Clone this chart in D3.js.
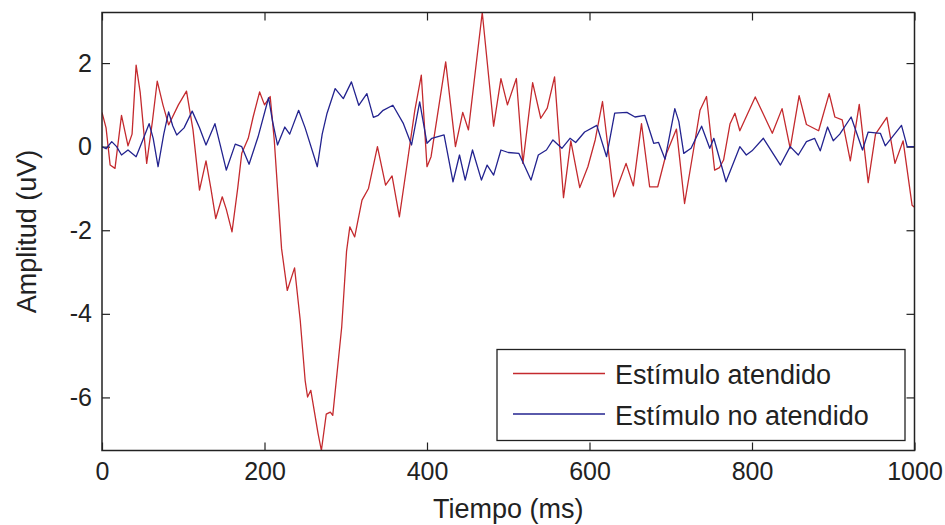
<!DOCTYPE html>
<html>
<head>
<meta charset="utf-8">
<script src="https://cdn.jsdelivr.net/npm/d3@7"></script>
<style>
  body { margin: 0; background: #fff; }
  svg { display: block; font-family: "Liberation Sans", Arial, sans-serif; }
  .tick text { font-size: 25px; fill: #222; }
  .tick line { stroke: #222; stroke-width: 1.2; }
</style>
</head>
<body>
<svg id="chart" width="945" height="525"></svg>
<script>
// valores (tiempo en ms, amplitud en uV)
const tiempoAtendido = [0, 5, 10, 16, 24, 32, 37, 42, 47, 55, 62, 68, 75, 82, 94, 104, 112, 120, 128, 134,
  140, 148, 153, 160, 167, 172, 180, 186, 194, 200, 207, 212, 221, 228, 237, 244, 250, 253, 257, 266,
  270, 276, 281, 284, 295, 301, 305, 311, 320, 328, 339, 349, 357, 366, 375, 385, 393, 400, 405, 423,
  435, 444, 451, 468, 482, 491, 499, 510, 518, 530, 540, 548, 557, 568, 577, 588, 598, 607, 616, 630,
  645, 654, 664, 674, 684, 694, 707, 717, 728, 736, 744, 754, 760, 765, 773, 779, 785, 804, 825, 837,
  847, 858, 867, 882, 895, 902, 911, 921, 932, 943, 952, 966, 976, 986, 997, 1000];
const ampAtendido = [0.82, 0.45, -0.44, -0.52, 0.75, 0.02, 0.3, 1.95, 1.3, -0.4, 0.6, 1.57, 1.0, 0.52, 1.0, 1.33, 0.4, -1.04, -0.34, -1.0,
  -1.72, -1.2, -1.5, -2.04, -1.0, -0.16, 0.2, 0.71, 1.31, 1.0, 1.2, 0.16, -2.44, -3.44, -2.9, -4.16, -5.59, -5.99, -5.83, -6.87,
  -7.27, -6.4, -6.35, -6.43, -4.32, -2.5, -1.92, -2.16, -1.28, -1.0, 0.0, -0.92, -0.7, -1.68, -0.48, 0.87, 1.71, -0.48, -0.24, 2.03,
  0.0, 0.82, 0.4, 3.21, 0.49, 1.63, 1.0, 1.63, -0.4, 1.53, 0.68, 0.92, 1.67, -1.22, 0.14, -0.98, -0.48, 0.16, 1.08, -1.2,
  -0.4, -0.94, 0.55, -0.96, -0.96, -0.2, 0.42, -1.36, -0.08, 0.87, 1.2, -0.56, -0.5, -0.32, 0.55, 0.8, 0.38, 1.19, 0.32, 0.91,
  -0.04, 1.22, 0.53, 0.38, 1.27, 0.71, 0.64, -0.34, 1.01, -0.86, 0.3, 0.7, -0.4, 0.14, -1.4, -1.45];

const tiempoNoAtendido = [0, 5, 12, 18, 24, 32, 42, 50, 58, 63, 69, 76, 82, 87, 92, 101, 111, 120, 128, 139,
  146, 153, 164, 172, 181, 192, 205, 210, 216, 225, 231, 242, 250, 265, 271, 277, 287, 297, 307, 316,
  326, 334, 340, 346, 358, 371, 381, 391, 400, 406, 421, 432, 440, 447, 456, 467, 474, 482, 491, 500,
  513, 528, 537, 547, 555, 566, 576, 583, 594, 609, 621, 631, 646, 656, 668, 679, 685, 693, 705, 710,
  716, 725, 738, 748, 753, 768, 785, 793, 800, 814, 835, 847, 857, 867, 877, 884, 893, 900, 908, 922,
  936, 943, 958, 964, 984, 991, 1000];
const ampNoAtendido = [0.0, -0.05, 0.12, 0.0, -0.2, -0.08, -0.24, 0.15, 0.55, 0.2, -0.48, 0.3, 0.83, 0.5, 0.28, 0.45, 0.85, 0.45, 0.04, 0.55,
  0.0, -0.56, 0.06, 0.0, -0.42, 0.23, 1.17, 0.6, 0.04, 0.47, 0.3, 0.87, 0.45, -0.48, 0.3, 0.8, 1.39, 1.15, 1.55, 0.99,
  1.27, 0.7, 0.75, 0.87, 0.99, 0.55, 0.04, 1.07, 0.08, 0.2, 0.28, -0.84, -0.2, -0.8, -0.08, -0.8, -0.44, -0.68, -0.08, -0.14,
  -0.16, -0.8, -0.2, -0.08, 0.16, -0.04, 0.2, 0.1, 0.35, 0.51, -0.24, 0.8, 0.82, 0.71, 0.75, 0.08, 0.1, -0.3, 0.91, 0.6,
  -0.16, -0.04, 0.49, -0.04, 0.2, -0.84, 0.0, -0.2, -0.1, 0.2, -0.44, 0.0, -0.2, 0.12, 0.2, -0.1, 0.47, 0.14, 0.3, 0.71,
  -0.08, 0.35, 0.32, 0.02, 0.51, 0.0, 0.0];

const xTicks = [0, 200, 400, 600, 800, 1000];
const yTicks = [-6, -4, -2, 0, 2];
const nombres = ["Estímulo atendido", "Estímulo no atendido"];
const colores = ["#c42a2e", "#23238f"];

const width = 945, height = 525;
const margin = { top: 12.5, right: 30.5, bottom: 74.5, left: 102 };
const w = width - margin.left - margin.right;
const h = height - margin.top - margin.bottom;

const svg = d3.select("#chart");
const g = svg.append("g").attr("transform", `translate(${margin.left},${margin.top})`);

// eje y ajustado a los datos (axis tight)
const x = d3.scaleLinear().domain([0, 1000]).range([0, w]);
const y = d3.scaleLinear().domain(d3.extent(ampAtendido.concat(ampNoAtendido))).range([h, 0]);

// etiquetas simples, con guion normal como en matlab
const fmt = d => String(d);

g.append("clipPath").attr("id", "clip")
  .append("rect").attr("width", w).attr("height", h);

// ejes con marcas hacia dentro en los cuatro lados
g.append("g").attr("transform", `translate(0,${h})`)
  .call(d3.axisBottom(x).tickValues(xTicks).tickFormat(fmt).tickSizeInner(-8).tickSizeOuter(0).tickPadding(12))
  .call(a => a.select(".domain").remove());
g.append("g")
  .call(d3.axisTop(x).tickValues(xTicks).tickSizeInner(-8).tickSizeOuter(0).tickFormat(""))
  .call(a => a.select(".domain").remove());
g.append("g")
  .call(d3.axisLeft(y).tickValues(yTicks).tickFormat(fmt).tickSizeInner(-8).tickSizeOuter(0).tickPadding(10))
  .call(a => a.select(".domain").remove());
g.append("g").attr("transform", `translate(${w},0)`)
  .call(d3.axisRight(y).tickValues(yTicks).tickSizeInner(-8).tickSizeOuter(0).tickFormat(""))
  .call(a => a.select(".domain").remove());

const series = [
  { nombre: nombres[0], color: colores[0], t: tiempoAtendido, v: ampAtendido },
  { nombre: nombres[1], color: colores[1], t: tiempoNoAtendido, v: ampNoAtendido }
];

const line = d3.line()
  .x(d => x(d[0]))
  .y(d => y(d[1]));

g.append("g").attr("clip-path", "url(#clip)")
  .selectAll("path")
  .data(series)
  .enter().append("path")
  .attr("d", s => line(d3.zip(s.t, s.v)))
  .attr("fill", "none")
  .attr("stroke", s => s.color)
  .attr("stroke-width", 1.3)
  .attr("stroke-linejoin", "round");

// caja del grafico
g.append("rect")
  .attr("width", w).attr("height", h)
  .attr("fill", "none")
  .attr("stroke", "#222")
  .attr("stroke-width", 1.5);

// etiquetas
svg.append("text")
  .attr("x", margin.left + w / 2).attr("y", 518)
  .attr("text-anchor", "middle")
  .style("font-size", "27px").style("fill", "#222")
  .text("Tiempo (ms)");

svg.append("text")
  .attr("transform", `translate(36,${margin.top + h / 2}) rotate(-90)`)
  .attr("text-anchor", "middle")
  .style("font-size", "27px").style("fill", "#222")
  .text("Amplitud (uV)");

// leyenda
const legend = svg.append("g").attr("transform", "translate(497,349.5)");
legend.append("rect")
  .attr("width", 408).attr("height", 91)
  .attr("fill", "#fff")
  .attr("stroke", "#222")
  .attr("stroke-width", 1.3);

const lg = legend.selectAll("g.item")
  .data(series)
  .enter().append("g")
  .attr("class", "item")
  .attr("transform", (d, i) => `translate(0,${24 + i * 40.5})`);

lg.append("line")
  .attr("x1", 16).attr("x2", 108)
  .attr("stroke", d => d.color)
  .attr("stroke-width", 1.3);

lg.append("text")
  .attr("x", 118).attr("y", 10.5)
  .style("font-size", "27px").style("fill", "#222")
  .text(d => d.nombre);
</script>
</body>
</html>
